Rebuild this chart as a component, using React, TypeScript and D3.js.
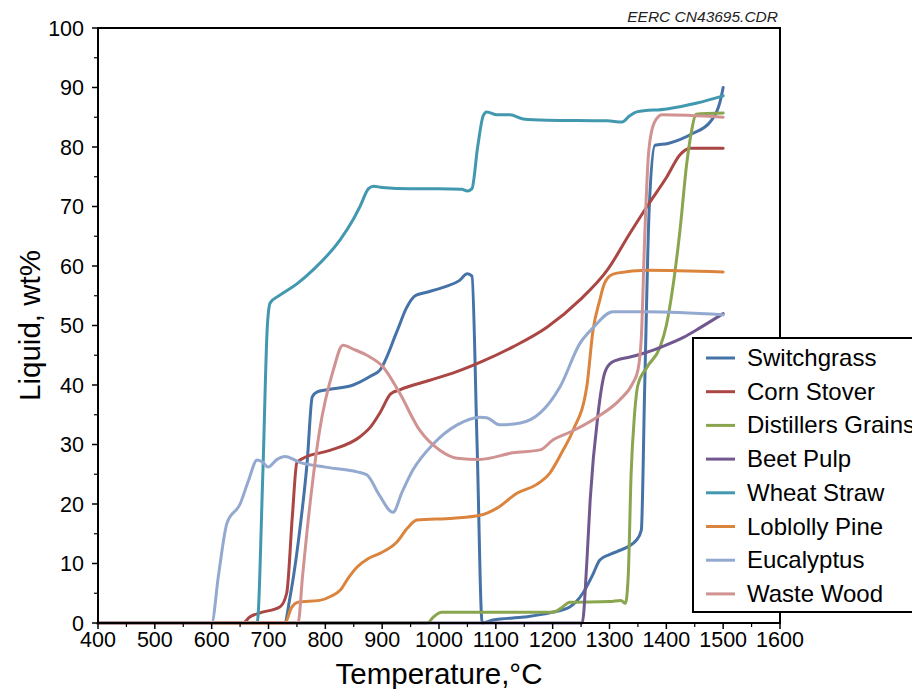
import React from "react";
import * as d3 from "d3";

const seriesNames = ["Switchgrass", "Corn Stover", "Distillers Grains", "Beet Pulp", "Wheat Straw", "Loblolly Pine", "Eucalyptus", "Waste Wood"];
const seriesColors = ["#4572a7", "#aa4643", "#89a54e", "#71588f", "#4198af", "#db843d", "#93a9cf", "#d19392"];

const switchgrassT = [400, 728, 738, 755, 768, 777, 785, 803, 849, 880, 896, 926, 943, 958, 975, 1010, 1035, 1050, 1058, 1067, 1076, 1095, 1150, 1195, 1230, 1253, 1270, 1283, 1300, 1313, 1348, 1356, 1362, 1370, 1380, 1403, 1447, 1477, 1494, 1500];
const switchgrassV = [0, 0, 4.4, 15.6, 27, 38, 38.8, 39.2, 40, 41.5, 42.5, 49, 53, 55, 55.5, 56.5, 57.5, 58.7, 58.3, 30, 0, 0.5, 1, 1.7, 2.7, 5, 8, 10.6, 11.5, 12, 14, 15.6, 40, 70, 80.3, 80.6, 82.3, 84.2, 87.4, 90];

const cornT = [400, 655, 667, 685, 720, 732, 742, 750, 761, 808, 861, 880, 896, 915, 931, 984, 1030, 1072, 1130, 1190, 1248, 1296, 1336, 1366, 1401, 1424, 1442, 1500];
const cornV = [0, 0, 1, 1.7, 2.7, 5, 18, 27, 27.7, 29, 31.3, 33, 35.3, 38.5, 39.2, 40.8, 42.2, 43.8, 46.4, 49.7, 54.3, 59.3, 65.5, 70, 75, 78.7, 79.8, 79.8];

const distillersT = [400, 980, 990, 1005, 1050, 1150, 1201, 1215, 1230, 1300, 1320, 1328, 1333, 1338, 1344, 1350, 1366, 1389, 1400, 1410, 1424, 1436, 1445, 1452, 1500];
const distillersV = [0, 0, 1, 1.8, 1.8, 1.8, 1.8, 2.5, 3.5, 3.6, 3.8, 3.3, 8, 25, 35, 40, 43, 46.4, 50, 55.5, 66, 77.3, 83, 85.5, 85.7];

const beetT = [400, 1252, 1260, 1266, 1280, 1290, 1300, 1313, 1336, 1366, 1394, 1430, 1459, 1500];
const beetV = [0, 0, 10, 20.7, 35.3, 41.5, 43.5, 44.2, 44.7, 45.5, 46.5, 48, 49.6, 52];

const wheatT = [400, 680, 690, 698, 703, 720, 750, 778, 826, 850, 861, 876, 885, 900, 950, 1000, 1040, 1050, 1058, 1068, 1078, 1084, 1102, 1125, 1148, 1190, 1296, 1322, 1335, 1348, 1401, 1454, 1500];
const wheatV = [0, 0, 25, 50, 53.8, 55.1, 57, 59.3, 64.4, 68, 70, 73, 73.4, 73.2, 73, 73, 72.9, 72.6, 73, 80, 85.3, 85.9, 85.4, 85.4, 84.7, 84.5, 84.4, 84.2, 85.2, 85.9, 86.4, 87.4, 88.6];

const loblollyT = [400, 729, 740, 752, 790, 810, 826, 840, 856, 875, 896, 926, 945, 961, 1025, 1072, 1102, 1137, 1172, 1195, 1218, 1236, 1260, 1271, 1283, 1289, 1300, 1313, 1366, 1500];
const loblollyV = [0, 0, 2.5, 3.5, 3.8, 4.5, 5.5, 7.5, 9.4, 10.8, 11.7, 13.6, 16, 17.3, 17.6, 18.1, 19.3, 21.8, 23.3, 25.2, 29, 32.4, 39.7, 49.2, 54.3, 56.5, 58.3, 58.8, 59.3, 59];

const eucalyptusT = [400, 600, 612, 627, 650, 665, 680, 690, 699, 715, 729, 755, 800, 856, 873, 895, 919, 935, 954, 989, 1032, 1072, 1084, 1107, 1143, 1178, 1213, 1248, 1271, 1306, 1366, 1500];
const eucalyptusV = [0, 0, 8, 16.8, 20, 24, 27.4, 27, 26.2, 27.5, 28, 27, 26.2, 25.4, 24.9, 21.5, 18.6, 22, 25.7, 30, 33.3, 34.6, 34.5, 33.3, 33.6, 35.3, 39.7, 47, 49.6, 52.3, 52.3, 51.8];

const wasteT = [400, 752, 760, 768, 790, 814, 831, 850, 873, 902, 931, 966, 1002, 1032, 1072, 1130, 1178, 1201, 1231, 1278, 1318, 1341, 1350, 1356, 1362, 1368, 1375, 1385, 1392, 1500];
const wasteV = [0, 0, 8, 15.6, 32.4, 42.5, 46.7, 46, 45, 43, 38.6, 32.4, 29, 27.7, 27.5, 28.6, 29.1, 30.8, 32.1, 34.6, 37.5, 40.3, 42.5, 48, 65, 78, 83, 85, 85.4, 85];

const xTicks = [400, 500, 600, 700, 800, 900, 1000, 1100, 1200, 1300, 1400, 1500, 1600];
const yTicks = [0, 10, 20, 30, 40, 50, 60, 70, 80, 90, 100];

const seriesT = [switchgrassT, cornT, distillersT, beetT, wheatT, loblollyT, eucalyptusT, wasteT];
const seriesV = [switchgrassV, cornV, distillersV, beetV, wheatV, loblollyV, eucalyptusV, wasteV];

const FONT = "'Liberation Sans', Arial, sans-serif";

export default function App() {
  const left = 98, right = 780, top = 28, bottom = 623;
  const x = d3.scaleLinear().domain([400, 1600]).range([left, right]);
  const y = d3.scaleLinear().domain([0, 100]).range([bottom, top]);
  const line = d3.line<[number, number]>().x(d => x(d[0])).y(d => y(d[1])).curve(d3.curveMonotoneX);

  const xMinor = d3.range(450, 1600, 100);
  const yMinor = d3.range(5, 100, 10);

  const legX = 693, legY = 338, legH = 274, rowH = 33.7, row0 = 358;

  return (
    <svg width={912} height={689} style={{ position: "absolute", left: 0, top: 0, background: "#fff" }}>
      <rect x={0} y={0} width={912} height={689} fill="#fff" />
      <text x={778} y={22} textAnchor="end" fontFamily={FONT} fontStyle="italic" fontSize={15.5} fill="#222">EERC CN43695.CDR</text>
      {seriesNames.map((n, i) => {
        const pts: [number, number][] = seriesT[i].map((t, k) => [t, seriesV[i][k]]);
        return <path key={n} d={line(pts) || ""} fill="none" stroke={seriesColors[i]} strokeWidth={3} strokeLinejoin="round" strokeLinecap="round" />;
      })}
      <rect x={left} y={top} width={right - left} height={bottom - top} fill="none" stroke="#000" strokeWidth={2} />
      {yTicks.map(t => (
        <g key={"y" + t}>
          <line x1={left - 6} x2={left} y1={y(t)} y2={y(t)} stroke="#000" strokeWidth={1.5} />
          <text x={left - 14} y={y(t) + 7.5} textAnchor="end" fontFamily={FONT} fontSize={21.5} fill="#000">{t}</text>
        </g>
      ))}
      {yMinor.map(t => (
        <line key={"ym" + t} x1={left - 4} x2={left} y1={y(t)} y2={y(t)} stroke="#000" strokeWidth={1.2} />
      ))}
      {xTicks.map(t => (
        <g key={"x" + t}>
          <line x1={x(t)} x2={x(t)} y1={bottom} y2={bottom + 6} stroke="#000" strokeWidth={1.5} />
          <text x={x(t)} y={bottom + 24} textAnchor="middle" fontFamily={FONT} fontSize={21.5} fill="#000">{t}</text>
        </g>
      ))}
      {xMinor.map(t => (
        <line key={"xm" + t} x1={x(t)} x2={x(t)} y1={bottom} y2={bottom + 4} stroke="#000" strokeWidth={1.2} />
      ))}
      <text x={(left + right) / 2} y={684} textAnchor="middle" fontFamily={FONT} fontSize={29.5} fill="#000">Temperature,°C</text>
      <text transform={`translate(40, ${(top + bottom) / 2}) rotate(-90)`} textAnchor="middle" fontFamily={FONT} fontSize={29.5} fill="#000">Liquid, wt%</text>
      <rect x={legX} y={legY} width={260} height={legH} fill="#fff" stroke="#000" strokeWidth={2} />
      {seriesNames.map((n, i) => (
        <g key={"l" + n}>
          <line x1={706} x2={735} y1={row0 + i * rowH} y2={row0 + i * rowH} stroke={seriesColors[i]} strokeWidth={3} />
          <text x={747} y={row0 + i * rowH + 8} fontFamily={FONT} fontSize={24} fill="#000">{n}</text>
        </g>
      ))}
    </svg>
  );
}
